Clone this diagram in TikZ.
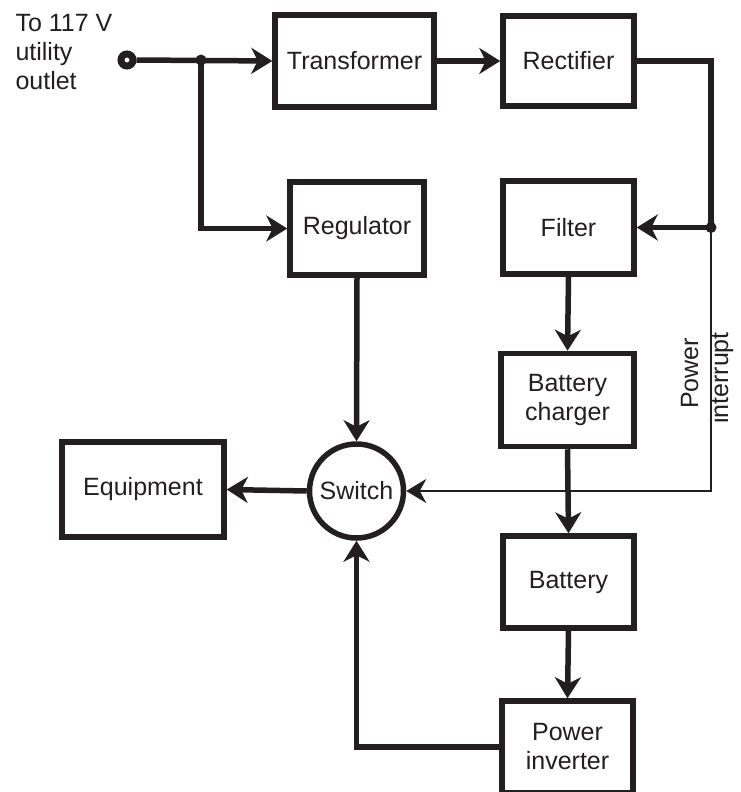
\documentclass[tikz,border=0pt]{standalone}
\usepackage{fontspec}
\setmainfont{Liberation Sans}
\usetikzlibrary{arrows.meta}
\definecolor{ink}{HTML}{231F20}
\begin{document}
\begin{tikzpicture}[x=1pt,y=-1pt,
  txt/.style={font=\fontsize{25}{29}\selectfont, text=ink},
  blk/.style={txt, draw=ink, line width=5.5pt, inner sep=0pt, align=center, line join=miter},
  arr/.style={draw=ink, line width=5.5pt, line join=miter, -{Stealth[length=21pt,width=26pt,inset=6.5pt]}},
  thinarr/.style={draw=ink, line width=2pt, line join=miter, -{Stealth[length=20pt,width=24pt,inset=6.5pt]}},
  dot/.style={circle, fill=ink, inner sep=0pt, minimum size=11pt}]
\useasboundingbox (0,0) rectangle (741,792);
\fill[white] (0,0) rectangle (741,792);

% blocks
\node[blk, minimum width=159pt, minimum height=92pt] (trans) at (354.5,61) {Transformer};
\node[blk, minimum width=131pt, minimum height=90pt] (rect) at (568.5,61) {Rectifier};
\node[blk, minimum width=134pt, minimum height=93pt] (reg) at (357,228.5) {Regulator};
\node[blk, minimum width=131pt, minimum height=93pt] (filt) at (568.5,227.5) {Filter};
\node[blk, minimum width=133pt, minimum height=93pt] (charg) at (567.5,400) {Battery\\charger};
\node[blk, minimum width=162pt, minimum height=95pt] (equip) at (143,489.5) {Equipment};
\node[blk, circle, minimum size=94pt] (sw) at (356.5,491) {Switch};
\node[blk, minimum width=131pt, minimum height=92pt] (batt) at (568.5,582) {Battery};
\node[blk, minimum width=131pt, minimum height=92pt] (inv) at (567.5,747) {Power\\inverter};

% input terminal and label
\node[circle, draw=ink, line width=7pt, inner sep=0pt, minimum size=12pt] (term) at (127,60) {};
\node[txt, align=left, anchor=north west] (lbl) at (12,11) {To 117 V\\utility\\outlet};

% junctions
\node[dot] (j1) at (201,60) {};
\node[dot] (j2) at (711,227.5) {};

% connectors
\draw[arr] (term.east) -- (trans.west);
\draw[arr] (j1.center) |- (reg.west);
\draw[arr] (trans.east) -- (rect.west);
\draw[draw=ink, line width=5.5pt, line join=miter] (rect.east) -| (j2.center);
\draw[arr] (j2.center) -- (filt.east);
\draw[thinarr] (j2.center) |- (sw.east);
\draw[arr] (reg.south) -- (sw.north);
\draw[arr] (sw.west) -- (equip.east);
\draw[arr] (filt.south) -- (charg.north);
\draw[arr] (charg.south) -- (batt.north);
\draw[arr] (batt.south) -- (inv.north);
\draw[arr] (inv.west) -| (sw.south);

% power interrupt label
\node[txt, rotate=90, anchor=base] (pw) at (698,373.5) {Power};
\node[txt, rotate=90, anchor=base] (intr) at (728,378) {interrupt};
\end{tikzpicture}
\end{document}
